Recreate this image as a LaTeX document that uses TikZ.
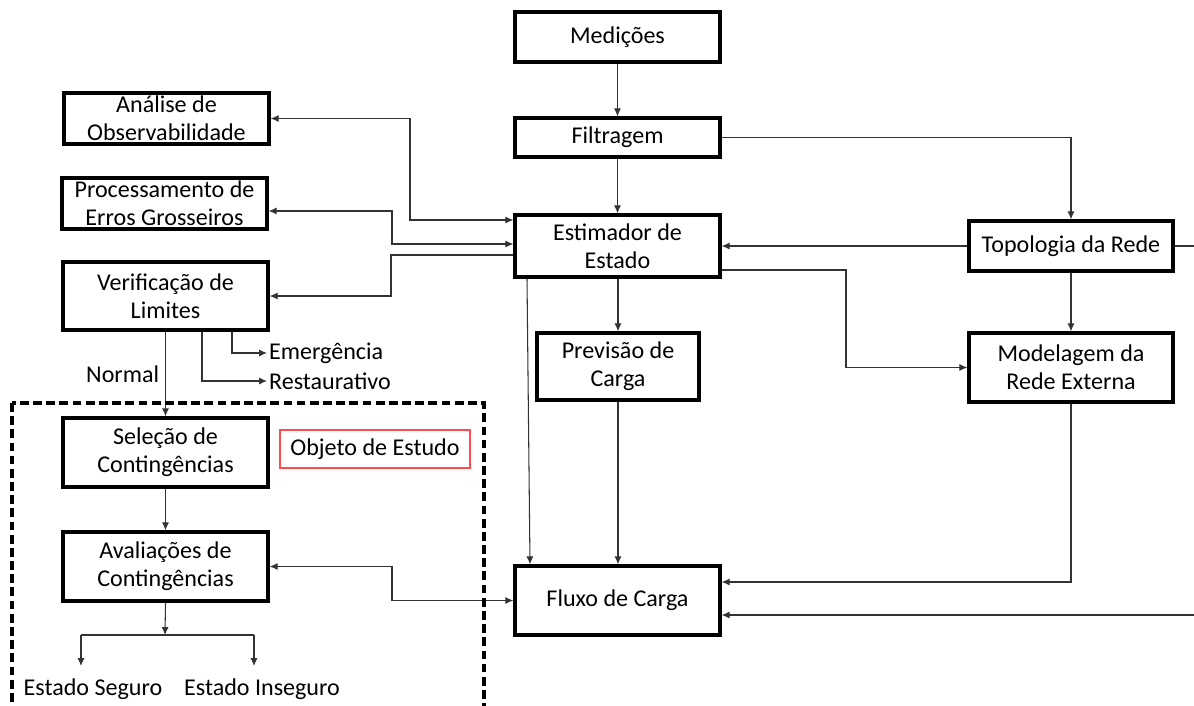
\documentclass[tikz,border=0pt]{standalone}
\usepackage{fontspec}
\setmainfont{Carlito}
\usetikzlibrary{arrows.meta}

\tikzset{
	bloco/.style={draw,line width=1.9pt,align=center,inner sep=0pt,minimum width=4.1cm},
	seta/.style={draw=black!80,line width=0.6pt,-{Latex[length=4.5pt,width=4pt]}},
	setas/.style={draw=black!80,line width=0.6pt,{Latex[length=4.5pt,width=4pt]}-{Latex[length=4.5pt,width=4pt]}},
	linha/.style={draw=black!80,line width=0.6pt},
	rotulo/.style={inner sep=1pt}
}

\begin{document}
\begin{tikzpicture}[x=0.02cm,y=-0.02cm,font=\fontsize{13.7}{16}\selectfont]
				\useasboundingbox (0,0) rectangle (1194,706);

				\node[bloco,minimum height=1.0cm] (med) at (617.5,37) {Medições};
				\node[bloco,minimum height=0.78cm] (filt) at (617.5,137.5) {Filtragem};
				\node[bloco,minimum height=1.24cm] (est) at (617.5,246) {Estimador de\\Estado};
				\node[bloco,minimum width=4.08cm,minimum height=1.0cm] (topo) at (1071,246) {Topologia da Rede};
				\node[bloco,minimum width=3.24cm,minimum height=1.34cm] (prev) at (618,366.5) {Previsão de\\Carga};
				\node[bloco,minimum width=4.08cm,minimum height=1.38cm] (mod) at (1071,367.5) {Modelagem da\\Rede Externa};
				\node[bloco,minimum height=1.38cm] (fluxo) at (617.5,600.5) {Fluxo de Carga};

				\node[bloco,minimum height=1.02cm] (anal) at (166.5,118.5) {Análise de\\Observabilidade};
				\node[bloco,minimum height=1.02cm] (proc) at (164.5,203.5) {Processamento de\\Erros Grosseiros};
				\node[bloco,minimum height=1.36cm] (verif) at (165.5,296) {Verificação de\\Limites};
				\node[bloco,minimum height=1.38cm] (sel) at (165.5,452.5) {Seleção de\\Contingências};
				\node[bloco,minimum height=1.38cm] (aval) at (165.5,566.5) {Avaliações de\\Contingências};

				\node[draw=red!70,line width=0.6pt,minimum width=3.8cm,minimum height=0.76cm] (obj) at (375,449) {Objeto de Estudo};
				\node[rotulo,anchor=west] (emerg) at (267,353) {Emergência};
				\node[rotulo,anchor=west] (rest) at (267,381) {Restaurativo};
				\node (segu) at (93,689) {Estado Seguro};
				\node (inseg) at (262,689) {Estado Inseguro};

				\coordinate (borda1) at (1194,246);
				\coordinate (borda2) at (1194,615);
				\coordinate (ramo) at (165,635);
				\coordinate (ramoE) at (81,635);
				\coordinate (ramoD) at (254,635);

				\draw[seta] (med) -- (filt);
				\draw[seta] (filt) -- (est);
				\draw[seta] (filt.east) -| (topo.north);
				\draw[seta] (topo.west) -- (est.east);
				\draw[linha] (topo.east) -- (borda1);
				\draw[seta] (topo) -- (mod);
				\draw[seta] (est.east |- 0,270) -| (846,367.5) -- (mod.west);
				\draw[seta] (prev.north |- est.south) -- (prev.north);
				\draw[seta] (est.south -| 527,0) -- (fluxo.north -| 530,0);
				\draw[seta] (prev.south) -- (prev.south |- fluxo.north);
				\draw[seta] (mod.south) |- (fluxo.east |- 0,582);
				\draw[seta] (borda2) -- (fluxo.east |- borda2);

				\draw[setas] (anal.east) -| (410,220) -- (est.west |- 0,220);
				\draw[setas] (proc.east |- 0,211) -| (392,244) -- (est.west |- 0,244);
				\draw[seta] (est.west |- 0,255) -| (391,296) -- (verif.east);
				\draw[seta] (verif.south) -- (sel.north) node[midway,left]{Normal};
				\draw[seta] (verif.south -| 232,0) |- (emerg.west);
				\draw[seta] (verif.south -| 202,0) |- (rest.west);
				\draw[seta] (sel) -- (aval);
				\draw[setas] (aval.east) -| (392,600.5) -- (fluxo.west);
				\draw[seta] (aval.south) -- (ramo);
				\draw[linha] (ramoE) -- (ramoD);
				\draw[seta] (ramoE) -- (ramoE |- 0,666);
				\draw[seta] (ramoD) -- (ramoD |- 0,666);

				\draw[line width=2pt,dash pattern=on 5pt off 2.5pt] (12,403) rectangle (484,730);
			\end{tikzpicture}
\end{document}
